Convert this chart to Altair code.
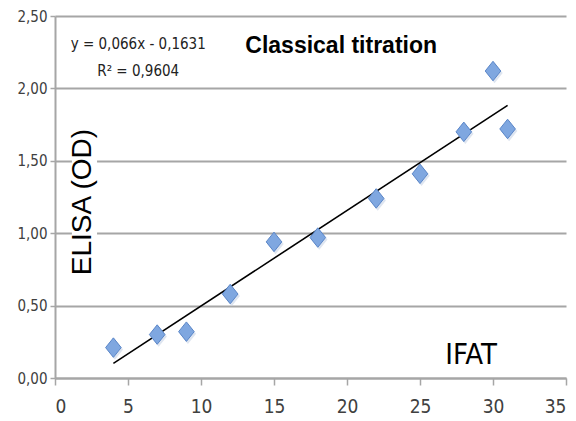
import altair as alt
import pandas as pd

ifat = [4, 7, 9, 12, 15, 18, 22, 25, 28, 30, 31]
elisa = [0.21, 0.30, 0.32, 0.58, 0.94, 0.97, 1.24, 1.41, 1.70, 2.12, 1.72]

slope = 0.066
intercept = -0.1631
fit_x = [4, 31]

ann_text = ["y = 0,066x - 0,1631", "R\u00b2 = 0,9604"]
ann_x = [5.7, 5.7]
ann_y = [2.31, 2.12]

pts = pd.DataFrame({"x": ifat, "y": elisa})
fit = pd.DataFrame({"x": fit_x, "y": [slope * v + intercept for v in fit_x]})
ann = pd.DataFrame({"t": ann_text, "x": ann_x, "y": ann_y})

narrow = "Liberation Sans Narrow, DejaVu Sans Condensed, sans-serif"
arial = "Liberation Sans, Arial, sans-serif"

xs = alt.Scale(domain=[0, 35], nice=False, zero=False)
ys = alt.Scale(domain=[0, 2.5], nice=False, zero=False)

x_axis = alt.Axis(values=list(range(0, 36, 5)), grid=False, domainColor="#a6a6a6",
                  domainWidth=2, tickColor="#a6a6a6", tickWidth=1.5, tickSize=7,
                  labelFont=narrow, labelFontSize=19, labelColor="#404040",
                  labelPadding=12, title=None)
y_axis = alt.Axis(values=[0, 0.5, 1, 1.5, 2, 2.5], grid=True, gridColor="#a6a6a6",
                  gridWidth=2, domainColor="#a6a6a6", domainWidth=2,
                  tickColor="#a6a6a6", tickSize=5, tickWidth=1.5,
                  labelFont=narrow, labelFontSize=15, labelColor="#404040",
                  labelPadding=3,
                  labelExpr="replace(format(datum.value, '.2f'), '.', ',')",
                  title=None)

base = alt.Chart(pts).mark_point(opacity=0).encode(
    x=alt.X("x:Q", scale=xs, axis=x_axis),
    y=alt.Y("y:Q", scale=ys, axis=y_axis),
)

mask = alt.Chart(pd.DataFrame({"x": [1.16], "x2": [2.88], "y": [0.66], "y2": [1.77]})).mark_rect(
    color="white").encode(x=alt.X("x:Q", scale=xs), x2="x2:Q",
                          y=alt.Y("y:Q", scale=ys), y2="y2:Q")

line = alt.Chart(fit).mark_line(color="black", strokeWidth=1.6).encode(
    x=alt.X("x:Q", scale=xs), y=alt.Y("y:Q", scale=ys))

shadow = alt.Chart(pts).mark_point(
    shape="M-0.8,0L0,-1L0.8,0L0,1Z", filled=True, size=420, color="#c8d4e6",
    opacity=0.6, xOffset=1.5, yOffset=2).encode(
    x=alt.X("x:Q", scale=xs), y=alt.Y("y:Q", scale=ys))

pts_mark = alt.Chart(pts).mark_point(
    shape="M-0.8,0L0,-1L0.8,0L0,1Z", filled=True, size=380, fill="#7fa7e0",
    stroke="#5a86c8", strokeWidth=1, opacity=1).encode(
    x=alt.X("x:Q", scale=xs), y=alt.Y("y:Q", scale=ys))

ann_mark = alt.Chart(ann).mark_text(font=narrow, fontSize=15, color="#222222").encode(
    x=alt.X("x:Q", scale=xs), y=alt.Y("y:Q", scale=ys), text="t:N")

title_df = pd.DataFrame({"t": ["Classical titration"], "x": [19.6], "y": [2.29]})
title_mark = alt.Chart(title_df).mark_text(
    font=arial, fontSize=23, fontWeight="bold",
    color="black").encode(x=alt.X("x:Q", scale=xs), y=alt.Y("y:Q", scale=ys), text="t:N")

ifat_df = pd.DataFrame({"t": ["IFAT"], "x": [28.5], "y": [0.16]})
ifat_mark = alt.Chart(ifat_df).mark_text(font=narrow, fontSize=29, color="black").encode(
    x=alt.X("x:Q", scale=xs), y=alt.Y("y:Q", scale=ys), text="t:N")

elisa_df = pd.DataFrame({"t": ["ELISA (OD)"], "x": [1.95], "y": [1.215]})
elisa_mark = alt.Chart(elisa_df).mark_text(
    font=arial, fontSize=28, angle=270,
    color="black").encode(x=alt.X("x:Q", scale=xs), y=alt.Y("y:Q", scale=ys), text="t:N")

chart = alt.layer(base, mask, line, shadow, pts_mark, ann_mark, title_mark,
                  ifat_mark, elisa_mark).properties(
    width=511, height=362,
    autosize=alt.AutoSizeParams(type="none"),
    padding={"left": 47, "top": 8, "right": 2, "bottom": 43},
).configure_view(stroke=None)

chart.save("out.html", embed_options={"renderer": "svg", "actions": False})
